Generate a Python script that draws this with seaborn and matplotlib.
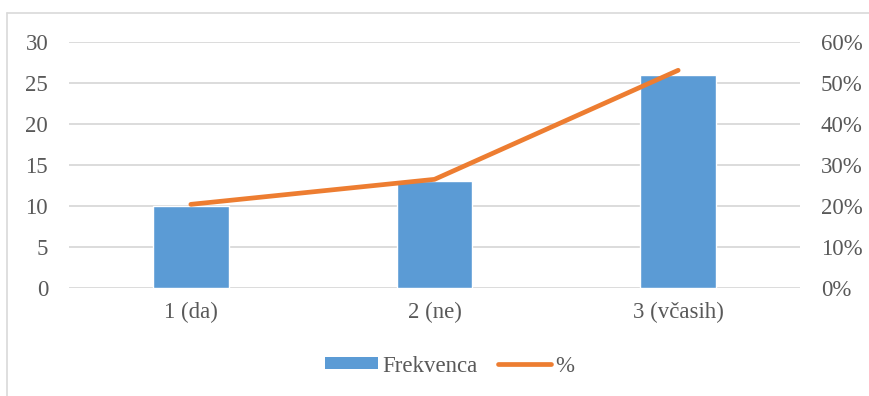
import matplotlib
matplotlib.use("Agg")
import matplotlib.pyplot as plt
import seaborn as sns
import pandas as pd
from matplotlib.lines import Line2D
from matplotlib.patches import Patch
from matplotlib.ticker import FuncFormatter

categories = ["1 (da)", "2 (ne)", "3 (včasih)"]
frekvenca = [10, 13, 26]
percent = [20.4, 26.5, 53.1]

df = pd.DataFrame({"kat": categories, "Frekvenca": frekvenca, "pct": percent})

sns.set_theme(style="white")
plt.rcParams["font.family"] = ["Liberation Serif", "DejaVu Serif"]

BLUE = "#5B9BD5"
ORANGE = "#ED7D31"
GRID = "#D9D9D9"
TXT = "#595959"
FS = 16.5

fig = plt.figure(figsize=(8.7, 3.96), dpi=100)
ax = fig.add_axes([69/870, 1-288/396, (800-69)/870, (288-42)/396])

sns.barplot(data=df, x="kat", y="Frekvenca", color=BLUE, width=0.31,
            saturation=1, ax=ax, zorder=2)
ax.set_ylim(0, 30)
ax.set_yticks(range(0, 31, 5))
ax.set_xlim(-0.5, 2.5)
ax.set_xlabel("")
ax.set_ylabel("")
ax.grid(axis="y", color=GRID, linewidth=1.3, zorder=0)
ax.set_axisbelow(True)
for s in ax.spines.values():
    s.set_visible(False)
ax.tick_params(axis="both", length=0, labelsize=FS, labelcolor=TXT)
ax.tick_params(axis="x", pad=10)
ax.tick_params(axis="y", pad=15)

ax2 = ax.twinx()
sns.lineplot(data=df, x="kat", y="pct", color=ORANGE, linewidth=3.4,
             ax=ax2, solid_capstyle="round", sort=False)
ax2.set_ylim(0, 60)
ax2.set_yticks(range(0, 61, 10))
ax2.yaxis.set_major_formatter(FuncFormatter(lambda v, p: f"{int(v)}%"))
ax2.set_ylabel("")
ax2.set_xlim(-0.5, 2.5)
for s in ax2.spines.values():
    s.set_visible(False)
ax2.tick_params(axis="y", length=0, labelsize=FS, labelcolor=TXT, pad=15)

handles = [Patch(facecolor=BLUE, edgecolor="none"),
           Line2D([0], [0], color=ORANGE, linewidth=3.4, solid_capstyle="round")]
leg = fig.legend(handles, ["Frekvenca", "%"], loc="center", bbox_to_anchor=(450/870, 1-366/396),
                 ncol=2, frameon=False, fontsize=FS, handlelength=2.3, handleheight=0.45,
                 columnspacing=0.9, handletextpad=0.2)
for t in leg.get_texts():
    t.set_color(TXT)

# outer chart frame (cropped at right and bottom)
fig.add_artist(Line2D([7.5/870, 1.0], [1-12.5/396, 1-12.5/396], color="#D9D9D9", linewidth=1.2,
                      transform=fig.transFigure))
fig.add_artist(Line2D([7.5/870, 7.5/870], [0, 1-12.5/396], color="#D9D9D9", linewidth=1.2,
                      transform=fig.transFigure))

fig.savefig("out.png", dpi=100)
